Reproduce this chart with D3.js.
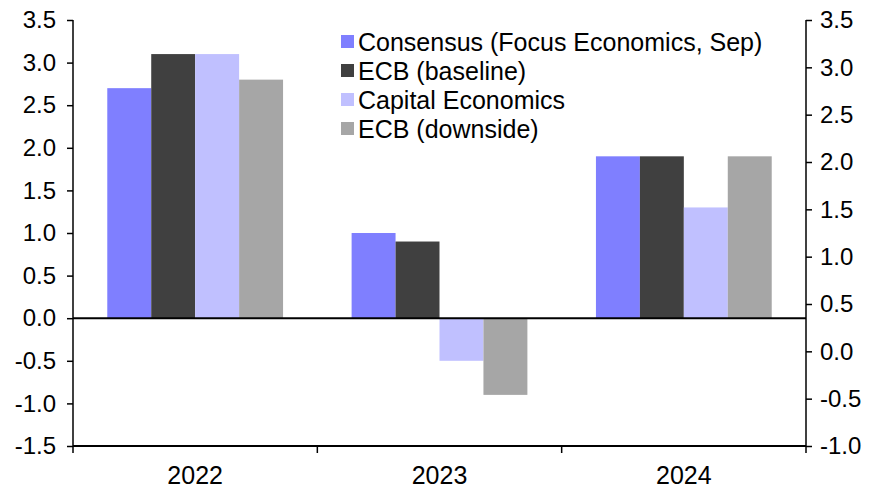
<!DOCTYPE html>
<html>
<head>
<meta charset="utf-8">
<script src="https://cdn.jsdelivr.net/npm/d3@7"></script>
<style>
  body { margin: 0; background: #fff; }
  svg text { font-family: "Liberation Sans", Arial, sans-serif; fill: #000; }
</style>
</head>
<body>
<script>
    var years = ['2022', '2023', '2024'];
    var seriesNames = ['Consensus (Focus Economics, Sep)', 'ECB (baseline)', 'Capital Economics', 'ECB (downside)'];
    var consensus = [2.7, 1.0, 1.9];
    var ecbBaseline = [3.1, 0.9, 1.9];
    var capitalEconomics = [3.1, -0.5, 1.3];
    var ecbDownside = [2.8, -0.9, 1.9];
    var leftTicks = [3.5, 3.0, 2.5, 2.0, 1.5, 1.0, 0.5, 0.0, -0.5, -1.0, -1.5];
    var rightTicks = [3.5, 3.0, 2.5, 2.0, 1.5, 1.0, 0.5, 0.0, -0.5, -1.0];
    var colors = ['#7f7fff', '#404040', '#c0c0ff', '#a6a6a6'];

    var allSeries = [consensus, ecbBaseline, capitalEconomics, ecbDownside];

    var W = 884, H = 492,
        mLeft = 73, mRight = 806, mTop = 20, mBottom = 446;

    // plain hyphen for negatives, like the original
    var fmt = function (v) { return v.toFixed(1); };

    var svg = d3.select('body').append('svg')
            .attr('width', W)
            .attr('height', H);

    var x0 = d3.scaleBand().domain(years).range([mLeft, mRight]);
    var x1 = d3.scaleBand().domain(d3.range(4))
            .range([0, x0.bandwidth()]).paddingOuter(0.78);
    var yL = d3.scaleLinear().domain([-1.5, 3.5]).range([mBottom, mTop]);
    var yR = d3.scaleLinear().domain([-1.0, 3.5]).range([mBottom, mTop]);

    // bars
    var groups = svg.append('g').selectAll('g')
            .data(years)
            .join('g')
            .attr('transform', function (d) { return 'translate(' + x0(d) + ',0)'; });

    groups.selectAll('rect')
            .data(function (d, i) {
                return allSeries.map(function (s, k) { return {k: k, v: s[i]}; });
            })
            .join('rect')
            .attr('x', function (d) { return x1(d.k); })
            .attr('width', x1.bandwidth())
            .attr('y', function (d) { return yL(Math.max(0, d.v)); })
            .attr('height', function (d) { return Math.abs(yL(d.v) - yL(0)); })
            .attr('fill', function (d) { return colors[d.k]; });

    // left axis
    var axL = svg.append('g')
            .attr('transform', 'translate(' + mLeft + ',0)')
            .call(d3.axisLeft(yL).tickValues(leftTicks).tickSize(6).tickPadding(11)
                    .tickFormat(fmt));
    // right axis
    var axR = svg.append('g')
            .attr('transform', 'translate(' + mRight + ',0)')
            .call(d3.axisRight(yR).tickValues(rightTicks).tickSize(6).tickPadding(8)
                    .tickFormat(fmt));

    [axL, axR].forEach(function (a) {
        a.select('.domain').attr('stroke', '#000').attr('stroke-width', 1.5)
                .attr('d', 'M0,' + mTop + 'V' + mBottom);
        a.selectAll('.tick line').attr('stroke', '#000').attr('stroke-width', 1.5);
        a.selectAll('.tick text').style('font-size', '24px');
    });

    // bottom axis with ticks between categories
    var axB = svg.append('g').attr('transform', 'translate(0,' + mBottom + ')');
    axB.append('line').attr('x1', mLeft).attr('x2', mRight)
            .attr('stroke', '#000').attr('stroke-width', 2);
    axB.selectAll('line.tk')
            .data(years.concat(['end']))
            .join('line')
            .attr('class', 'tk')
            .attr('x1', function (d) { return d === 'end' ? mRight : x0(d); })
            .attr('x2', function (d) { return d === 'end' ? mRight : x0(d); })
            .attr('y1', 0).attr('y2', 7)
            .attr('stroke', '#000').attr('stroke-width', 1.5);
    axB.selectAll('text')
            .data(years)
            .join('text')
            .attr('x', function (d) { return x0(d) + x0.bandwidth() / 2; })
            .attr('y', 38)
            .attr('text-anchor', 'middle')
            .style('font-size', '25px')
            .text(function (d) { return d; });

    // zero line
    svg.append('line')
            .attr('x1', mLeft).attr('x2', mRight)
            .attr('y1', yL(0)).attr('y2', yL(0))
            .attr('stroke', '#000').attr('stroke-width', 2);

    // legend
    var lg = svg.append('g').attr('transform', 'translate(341,42)');
    var items = lg.selectAll('g')
            .data(seriesNames)
            .join('g')
            .attr('transform', function (d, i) { return 'translate(0,' + (i * 29) + ')'; });
    items.append('rect')
            .attr('x', 0).attr('y', -7).attr('width', 13).attr('height', 13)
            .attr('fill', function (d, i) { return colors[i]; });
    items.append('text')
            .attr('x', 17).attr('y', 0).attr('dy', '0.36em')
            .style('font-size', '25px')
            .text(function (d) { return d; });
</script>
</body>
</html>
